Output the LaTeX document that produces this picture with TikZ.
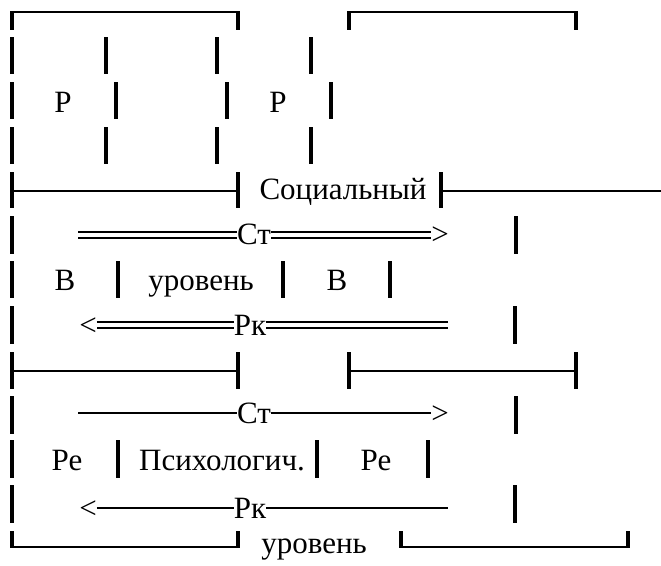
\documentclass[tikz,border=0pt]{standalone}
\usepackage{fontspec}
\setmainfont{LiberationSerif}[Extension=.ttf, UprightFont=*-Regular]
\tikzset{
  bar/.style={line width=3.2pt},
  rule/.style={line width=2.2pt},
  dbl/.style={line width=2pt, double, double distance=3.4pt},
  lbl/.style={anchor=base, inner sep=0pt, font=\rmfamily\fontsize{31}{31}\selectfont},
}

\begin{document}
\begin{tikzpicture}[x=1pt, y=-1pt]
  \useasboundingbox (0,0) rectangle (661,565);
  % brackets and ticks
  \draw[rule] (12,12) -- (238,12);
  \draw[rule] (349,12) -- (576,12);
  \foreach \x in {12,238,349,576} \draw[bar] (\x,11) -- (\x,30);
  \draw[rule] (12,191) -- (238,191);
  \draw[rule] (441,191) -- (661,191);
  \foreach \x in {12,238,441} \draw[bar] (\x,172) -- (\x,208);
  \draw[rule] (12,371) -- (238,371);
  \draw[rule] (349,371) -- (576,371);
  \foreach \x in {12,238,349,576} \draw[bar] (\x,352) -- (\x,389);
  \draw[rule] (12,547) -- (238,547);
  \draw[rule] (401,547) -- (628,547);
  \foreach \x in {12,238,401,628} \draw[bar] (\x,531) -- (\x,548);
  % bars of each row
  \foreach \t/\b/\xs in {37/74/{12,106,217,311}, 82/119/{12,116,227,331},
      127/164/{12,106,217,311}, 216/254/{12,516}, 261/298/{12,118,283,390},
      306/344/{12,515}, 396/434/{12,516}, 440/478/{12,118,317,428},
      485/523/{12,515}}
    \foreach \x in \xs \draw[bar] (\x,\t) -- (\x,\b);

  \node (p1) [lbl] at (63,112) {Р};
  \node (p2) [lbl] at (278,112) {Р};
  \node (soc) [lbl] at (343,199) {Социальный};
  \node (st1) [lbl] at (254,244) {Ст};
  \node (gt1) [lbl] at (440,244) {>};
  \node (v1) [lbl] at (65,290) {В};
  \node (lev1) [lbl] at (201,290) {уровень};
  \node (v2) [lbl] at (337,290) {В};
  \node (lt1) [lbl] at (88,335) {<};
  \node (rk1) [lbl] at (250,335) {Рк};
  \node (st2) [lbl] at (254,423) {Ст};
  \node (gt2) [lbl] at (440,423) {>};
  \node (re1) [lbl] at (67,470) {Ре};
  \node (psy) [lbl] at (222,470) {Психологич.};
  \node (re2) [lbl] at (376,470) {Ре};
  \node (lt2) [lbl] at (88,518) {<};
  \node (rk2) [lbl] at (250,518) {Рк};
  \node (lev2) [lbl] at (314,553) {уровень};

  % arrows
  \coordinate (a1) at (78,235);
  \coordinate (b1) at (448,325);
  \coordinate (a2) at (78,413);
  \coordinate (b2) at (448,508);
  \draw[dbl] (a1) -- (a1 -| st1.west);
  \draw[dbl] (a1 -| st1.east) -- (a1 -| gt1.west);
  \draw[dbl] (b1 -| lt1.east) -- (b1 -| rk1.west);
  \draw[dbl] (b1 -| rk1.east) -- (b1);
  \draw[rule] (a2) -- (a2 -| st2.west);
  \draw[rule] (a2 -| st2.east) -- (a2 -| gt2.west);
  \draw[rule] (b2 -| lt2.east) -- (b2 -| rk2.west);
  \draw[rule] (b2 -| rk2.east) -- (b2);
\end{tikzpicture}
\end{document}
